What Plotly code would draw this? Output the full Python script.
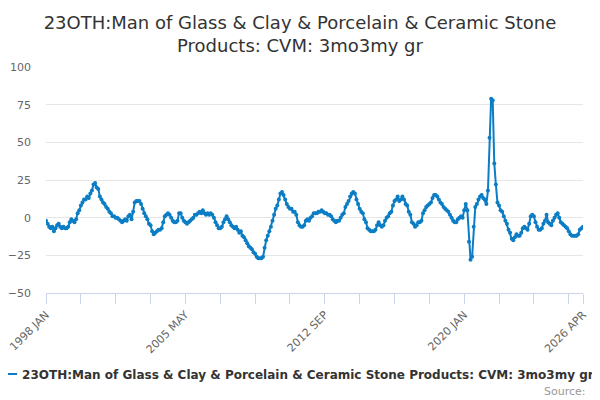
import plotly.graph_objects as go

title = "23OTH:Man of Glass & Clay & Porcelain & Ceramic Stone<br>Products: CVM: 3mo3my gr"
series_name = "23OTH:Man of Glass & Clay & Porcelain & Ceramic Stone Products: CVM: 3mo3my gr"

month_names = ["JAN", "FEB", "MAR", "APR", "MAY", "JUN",
               "JUL", "AUG", "SEP", "OCT", "NOV", "DEC"]
tick_positions = [0, 88, 176, 264, 339]
tick_labels = ["1998 JAN", "2005 MAY", "2012 SEP", "2020 JAN", "2026 APR"]

# monthly values, 1998 JAN .. 2026 APR
values = [
    -2, -4, -6, -7, -6, -9, -7, -5, -4, -6, -7, -6,
    -7, -7, -6, -3, -1, -2, -3, -1, 3, 5, 8, 10,
    12, 12, 14, 13, 16, 18, 22, 23, 20, 19, 14, 12,
    10, 9, 7, 6, 4, 3, 1, 1, 0, 0, -1, -2,
    -3, -2, -1, -2, 1, 2, -1, 4, 10, 11, 11, 11,
    9, 6, 3, 1, -1, -4, -5, -9, -11, -10, -9, -8,
    -8, -7, -3, 1, 2, 3, 2, 0, -2, -3, -3, -2,
    3, 3, 0, -2, -3, -4, -3, -2, -1, 0, 2, 2,
    3, 4, 3, 5, 3, 2, 3, 2, 3, 2, 0, -3,
    -5, -7, -7, -6, -3, -1, 1, -1, -3, -5, -6, -7,
    -6, -8, -10, -9, -12, -13, -15, -17, -19, -20, -21, -23,
    -24, -26, -27, -27, -27, -26, -20, -15, -12, -9, -6, -2,
    2, 6, 8, 12, 16, 17, 15, 12, 9, 7, 6, 6,
    4, 4, 2, -3, -5, -6, -6, -5, -2, -1, -2, 0,
    1, 3, 3, 3, 4, 4, 5, 4, 3, 3, 2, 2,
    1, -1, -2, -3, -2, -2, 0, 2, 3, 7, 9, 11,
    14, 16, 17, 16, 12, 9, 6, 4, 3, -1, -3, -7,
    -8, -9, -9, -9, -8, -5, -3, -5, -6, -5, -2, 0,
    1, 3, 4, 8, 11, 12, 14, 11, 12, 14, 12, 9,
    8, 4, 2, -3, -4, -6, -5, -3, -3, -2, 3, 5,
    7, 8, 9, 10, 13, 15, 15, 14, 12, 10, 9, 7,
    6, 5, 4, 2, 0, -2, -3, -3, -1, 0, 1, 0,
    5, 9, 5, -16, -28, -26, -6, 7, 9, 12, 14, 15,
    13, 12, 9, 18, 53, 79, 78, 36, 22, 10, 8, 5,
    4, 1, -2, -4, -8, -10, -14, -15, -13, -11, -12, -12,
    -10, -7, -6, -7, -8, -4, 1, 2, 1, -3, -6, -8,
    -8, -7, -4, -2, 2, -3, -4, -5, -2, 0, 2, 3,
    0, -3, -4, -5, -6, -7, -9, -11, -12, -12, -12, -12,
    -11, -8, -7, -6,
]

months = [f"{1998 + i // 12} {month_names[i % 12]}" for i in range(len(values))]
idx = list(range(len(values)))

fig = go.Figure()
fig.add_trace(go.Scatter(
    x=idx, y=values, name=series_name, mode="lines+markers",
    customdata=months,
    line=dict(color="#0b7dc4", width=2),
    marker=dict(color="#0b7dc4", size=4),
    hovertemplate="%{customdata}: %{y}<extra></extra>",
))

# the page body adds an 8px offset, so the figure is 8px smaller than the window
fig.update_layout(
    width=592, height=392,
    paper_bgcolor="white", plot_bgcolor="white",
    font=dict(family="DejaVu Sans", color="#666666", size=11),
    title=dict(text=title, x=292 / 592, xanchor="center", xref="container",
               y=1 - 21 / 392, yanchor="middle", yref="container",
               font=dict(size=18, color="#333333")),
    margin=dict(l=38, r=17, t=59, b=107, autoexpand=False),
    showlegend=True,
    legend=dict(orientation="h", x=-0.119, xanchor="left", y=-0.358, yanchor="middle",
                font=dict(size=12, color="#333333", family="DejaVu Sans", weight="bold"),
                bgcolor="rgba(0,0,0,0)"),
    annotations=[dict(text="Source:", xref="paper", yref="paper", x=1.009, y=-0.434,
                      xanchor="right", yanchor="middle", showarrow=False,
                      font=dict(size=11, color="#999999"))],
)

fig.update_xaxes(
    range=[0, 339], tickvals=tick_positions, ticktext=tick_labels, tickangle=-45,
    showgrid=False, zeroline=False, showline=True, linecolor="#ccd6eb", linewidth=1,
    ticks="outside", ticklen=10, tickcolor="#ccd6eb", automargin=False,
    ticklabeloverflow="allow",
    minor=dict(tick0=0, dtick=22, ticks="outside", ticklen=10, tickcolor="#ccd6eb"),
)
fig.update_yaxes(
    range=[-50, 100], dtick=25, showgrid=True, gridcolor="#e6e6e6",
    zeroline=False, showline=False, ticks="", ticklabelstandoff=14, automargin=False,
)

fig.write_html("out.html")
